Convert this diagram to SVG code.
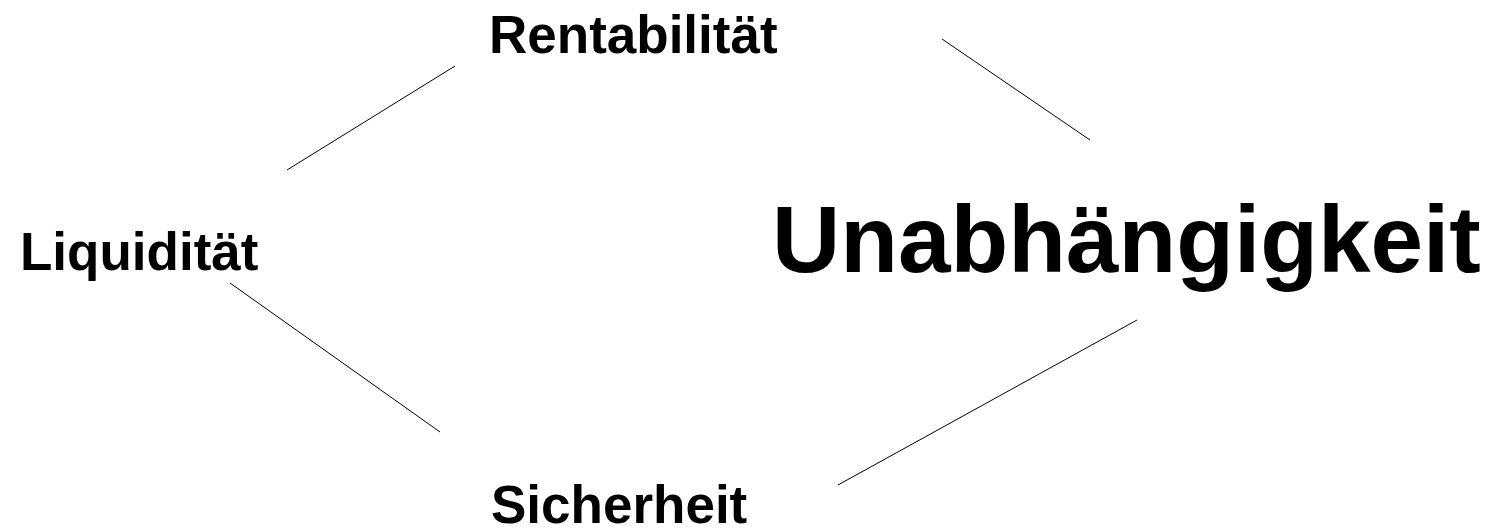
<svg xmlns="http://www.w3.org/2000/svg" width="1499" height="528" viewBox="0 0 1499 528">
<style>
.t{font-family:"Liberation Sans",Arial,sans-serif;font-weight:bold;fill:#000}
.s{font-size:53px}
.l{font-size:94.5px}
.c line{stroke:#000;stroke-width:1}
</style>
<rect width="1499" height="528" fill="#fff"/>
<g class="c" id="connectors">
<line x1="287" y1="170" x2="455" y2="66"/>
<line x1="942" y1="39" x2="1090" y2="140"/>
<line x1="230" y1="283" x2="440" y2="432"/>
<line x1="1137" y1="320" x2="838" y2="485"/>
</g>
<g id="rentabilitaet"><text class="t s" x="489" y="53">Rentabilität</text></g>
<g id="liquiditaet"><text class="t s" x="20" y="270">Liquidität</text></g>
<g id="sicherheit"><text class="t s" x="491" y="523">Sicherheit</text></g>
<g id="unabhaengigkeit"><text class="t l" x="772" y="272">Unabhängigkeit</text></g>
</svg>
